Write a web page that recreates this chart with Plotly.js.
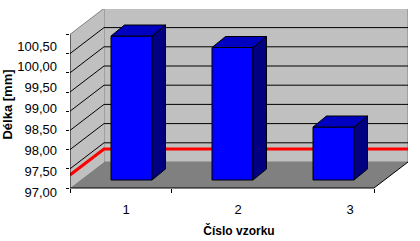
<!DOCTYPE html>
<html>
<head>
<meta charset="utf-8">
<script src="https://cdn.plot.ly/plotly-3.0.1.min.js"></script>
<style>html,body{margin:0;padding:0;background:#fff;}#chart{width:420px;height:241px;}</style>
</head>
<body>
<div id="chart"></div>
<script>
// ---- data ----
const categories = ['1', '2', '3'];
const lengths = [100.75, 100.45, 98.38];   // Délka [mm]
const limitLine = [97.34];                 // red reference line
const yTickValues = [97, 97.5, 98, 98.5, 99, 99.5, 100, 100.5];
const axisMin = 97, axisMax = 101;

// ---- geometry (oblique 3D look) ----
const W = 420, H = 241;
const M = {l: 70, r: 12, t: 9, b: 41};
const plotW = W - M.l - M.r, plotH = H - M.t - M.b;
const PXX = 101, PXY = 38.4;
const barCenterPx = 131.5, barBasePx = 180;
const xRange = [(M.l - barCenterPx) / PXX, (M.l + plotW - barCenterPx) / PXX];
const yRange = [axisMin - (M.t + plotH - barBasePx) / PXY, axisMin + (barBasePx - M.t) / PXY];
const depthX = 34 / PXX, depthY = 26 / PXY;
const frontOff = -8 / PXY, backOff = frontOff + depthY;
const xFL = xRange[0], xBL = xFL + depthX, xBR = xRange[1], xFR = xBR - depthX;
const barW = 41 / PXX, barDX = 13.5 / PXX, barDY = 11 / PXY;

const xIdx = categories.map((c, i) => i);
const shapes = [];
const poly = (pts) => 'M' + pts.map(p => p[0] + ',' + p[1]).join(' L') + ' Z';
const line = (pts) => 'M' + pts.map(p => p[0] + ',' + p[1]).join(' L');

shapes.push({type: 'path', xref: 'x', yref: 'y', layer: 'below',
  path: poly([[xBL, axisMin + backOff], [xBL, axisMax + backOff], [xBR, axisMax + backOff], [xBR, axisMin + backOff]]),
  fillcolor: '#c0c0c0', line: {color: '#808080', width: 1}});
shapes.push({type: 'path', xref: 'x', yref: 'y', layer: 'below',
  path: poly([[xFL, axisMin + frontOff], [xFL, axisMax + frontOff], [xBL, axisMax + backOff], [xBL, axisMin + backOff]]),
  fillcolor: '#c0c0c0', line: {width: 0}});
shapes.push({type: 'path', xref: 'x', yref: 'y', layer: 'below',
  path: line([[xFL, axisMax + frontOff], [xBL, axisMax + backOff]]), line: {color: '#808080', width: 1}});
shapes.push({type: 'path', xref: 'x', yref: 'y', layer: 'below',
  path: poly([[xFL, axisMin + frontOff], [xBL, axisMin + backOff], [xBR, axisMin + backOff], [xFR, axisMin + frontOff]]),
  fillcolor: '#808080', line: {width: 0}});
yTickValues.filter(v => v > axisMin).forEach(v => {
  shapes.push({type: 'path', xref: 'x', yref: 'y', layer: 'below',
    path: line([[xFL, v + frontOff], [xBL, v + backOff], [xBR, v + backOff]]),
    line: {color: '#000000', width: 1}});
});
shapes.push({type: 'path', xref: 'x', yref: 'y', layer: 'below',
  path: line([[xFL, limitLine[0] + frontOff], [xBL, limitLine[0] + backOff], [xBR, limitLine[0] + backOff]]),
  line: {color: '#ff0000', width: 3}});
shapes.push({type: 'path', xref: 'x', yref: 'y', layer: 'below',
  path: line([[xFL, axisMax + frontOff], [xFL, axisMin + frontOff], [xFR, axisMin + frontOff], [xBR, axisMin + backOff]]),
  line: {color: '#000000', width: 1}});
lengths.forEach((v, i) => {
  const xl = xIdx[i] - barW / 2, xr = xIdx[i] + barW / 2;
  shapes.push({type: 'path', xref: 'x', yref: 'y', layer: 'above',
    path: poly([[xr, axisMin], [xr, v], [xr + barDX, v + barDY], [xr + barDX, axisMin + barDY]]),
    fillcolor: '#000080', line: {color: '#000000', width: 1}});
  shapes.push({type: 'path', xref: 'x', yref: 'y', layer: 'above',
    path: poly([[xl, v], [xr, v], [xr + barDX, v + barDY], [xl + barDX, v + barDY]]),
    fillcolor: '#0000c0', line: {color: '#000000', width: 1}});
});

const font = {family: 'Liberation Sans, Arial, sans-serif', size: 13, color: '#000'};
const bars = {
  type: 'bar', x: xIdx, y: lengths.map(v => v - axisMin), base: axisMin, width: barW,
  marker: {color: '#0000ff', line: {color: '#000000', width: 1}},
  hoverinfo: 'skip'
};
const labelCarrier = {
  type: 'scatter', mode: 'markers', x: categories.map(Number), y: lengths,
  xaxis: 'x2', yaxis: 'y2', marker: {opacity: 0}, hoverinfo: 'skip'
};

const ylabTop = 46, ylabBot = 192;
const ylabScale = (ylabBot - ylabTop) / (yTickValues[yTickValues.length - 1] - yTickValues[0]);
const y2Range = [yTickValues[0] - (M.t + plotH - ylabBot) / ylabScale, yTickValues[0] + (ylabBot - M.t) / ylabScale];
const xlab1 = 126, xlabStep = 112;
const x2Range = [1 - (xlab1 - M.l) / xlabStep, 1 + (M.l + plotW - xlab1) / xlabStep];

const layout = {
  width: W, height: H, margin: M, showlegend: false,
  paper_bgcolor: '#fff', plot_bgcolor: 'rgba(0,0,0,0)', separators: ', ', font: font,
  xaxis: {range: xRange, showgrid: false, zeroline: false, showline: false, showticklabels: false,
    anchor: 'free', position: (M.t + plotH - (barBasePx + 8)) / plotH,
    tickvals: [xFL, xFL + 1, xFR], ticks: 'outside', ticklen: 4, tickcolor: '#000'},
  yaxis: {range: yRange, showgrid: false, zeroline: false, showline: false, showticklabels: false,
    tickvals: [97, 97.5, 98, 98.5, 99, 99.5, 100, 100.5, 101].map(v => v + frontOff),
    ticks: 'outside', ticklen: 3, tickcolor: '#000'},
  xaxis2: {overlaying: 'x', anchor: 'y', side: 'bottom', range: x2Range, showgrid: false, zeroline: false,
    showline: false, ticks: '', tickvals: [1, 2, 3], ticktext: categories, ticklabelstandoff: 0,
    tickfont: font,
    title: {text: 'Číslo vzorku', font: {family: font.family, size: 12, color: '#000', weight: 'bold'}, standoff: 10}},
  yaxis2: {overlaying: 'y', anchor: 'x', side: 'left', range: y2Range, showgrid: false, zeroline: false,
    showline: false, ticks: '', tickvals: yTickValues, tickformat: '.2f', ticklabelstandoff: 12,
    tickfont: font,
    title: {text: 'Délka [mm]', font: {family: font.family, size: 13, color: '#000', weight: 'bold'}, standoff: 3}},
  shapes: shapes
};
Plotly.newPlot('chart', [bars, labelCarrier], layout, {staticPlot: true, displayModeBar: false});
</script>
</body>
</html>
